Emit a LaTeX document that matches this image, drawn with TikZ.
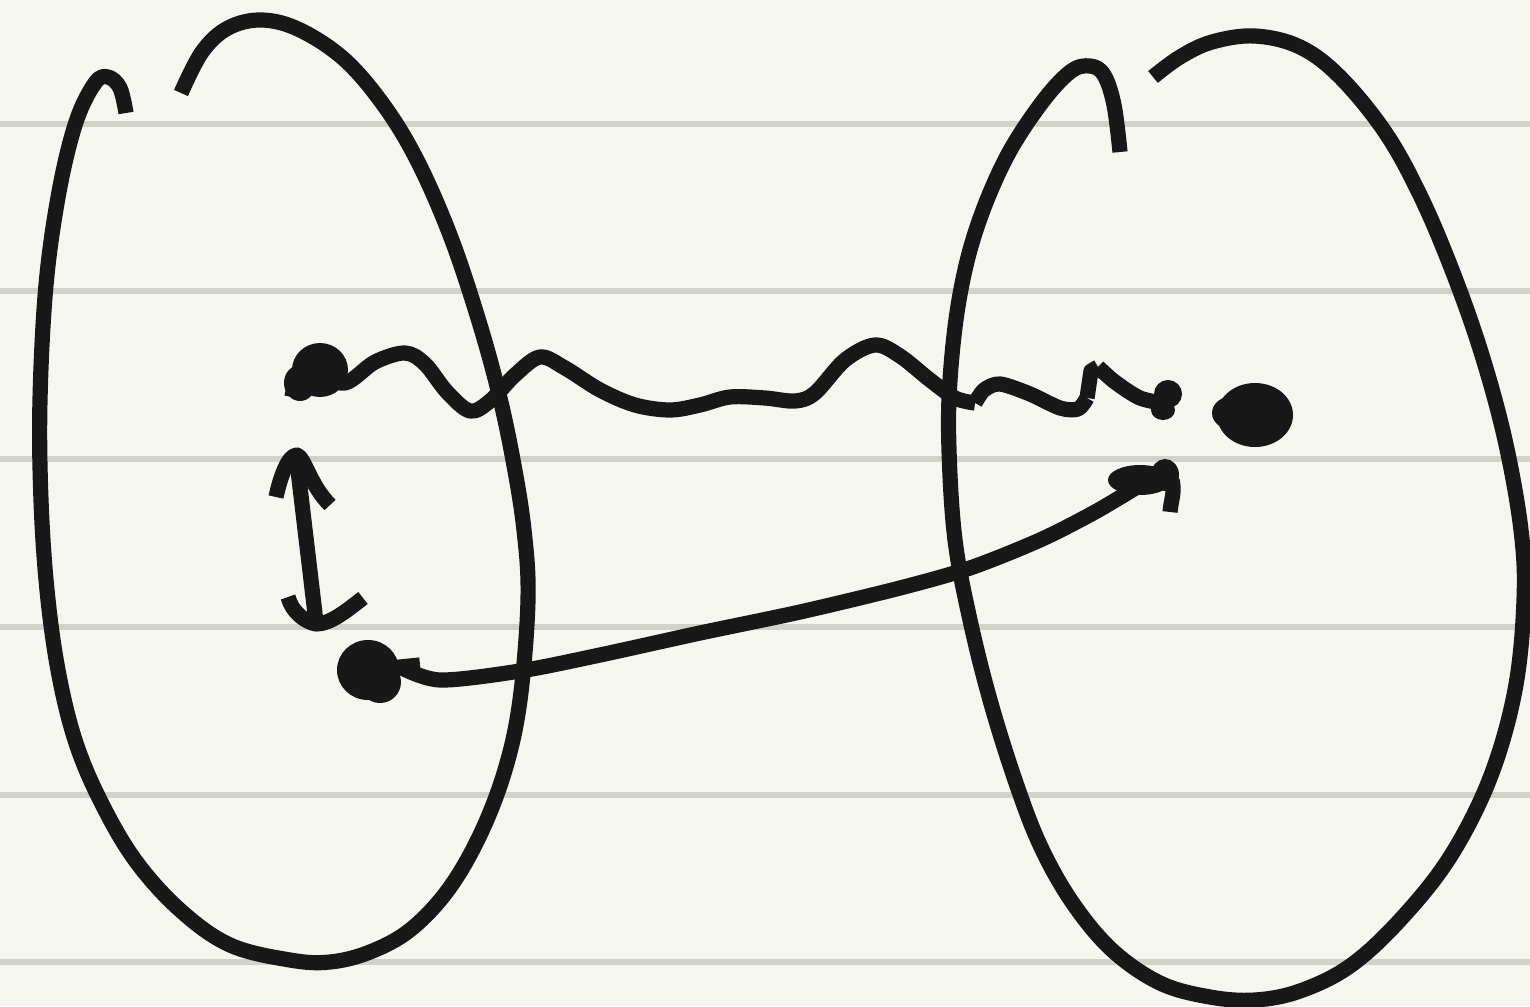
\documentclass[tikz,border=0pt]{standalone}
\begin{document}
\begin{tikzpicture}[x=0.5pt,y=-0.5pt,
  ink/.style={draw=inkc,line width=7.6pt,line cap=butt,line join=round},
  blob/.style={fill=inkc,draw=inkc,line width=1pt},
  ruled/.style={draw=rulec,line width=2.6pt}]
\definecolor{inkc}{HTML}{181818}
\definecolor{paper}{HTML}{F5F6F0}
\definecolor{rulec}{HTML}{D2D2CB}
\fill[paper] (0,0) rectangle (1530,1006);
\useasboundingbox (0,0) rectangle (1530,1006);
\foreach \yy in {124,291,459,627,795,962} \draw[ruled] (0,\yy) -- (1530,\yy);
% left loop
\draw[ink] plot[smooth,tension=0.6] coordinates {(126,113) (120,88) (108,77) (95,83) (76,122) (59,192) (46,285) (40,400) (41,500) (47,590) (58,670) (75,740) (100,800) (135,860) (180,910) (230,945) (290,960) (330,962) (370,952) (410,930) (448,890) (480,835) (505,770) (520,700) (528,600) (524,530) (513,460) (498,390) (477,315) (450,235) (418,162) (385,107) (345,60) (300,30) (262,20) (228,28) (202,52) (181,93)};
% right loop
\draw[ink] plot[smooth,tension=0.6] coordinates {(1120,152) (1114,105) (1104,75) (1090,66) (1070,72) (1040,105) (1005,160) (976,230) (959,300) (950,380) (949,450) (955,540) (970,620) (990,700) (1015,780) (1040,845) (1072,902) (1112,950) (1160,983) (1210,997) (1255,1000) (1300,991) (1350,966) (1400,920) (1450,857) (1490,778) (1515,690) (1524,600) (1521,530) (1505,440) (1481,352) (1452,270) (1420,195) (1385,132) (1340,77) (1300,47) (1255,36) (1212,42) (1180,57) (1153,77)};
% dots
\coordinate (a) at (318,373);
\coordinate (b) at (1167,398);
\coordinate (c) at (370,670);
\coordinate (d) at (1142,480);
\coordinate (e) at (1253,415);
\fill[blob] (320,370) ellipse [x radius=27, y radius=26];
\fill[blob] (300,383) ellipse [x radius=15, y radius=17];
\draw[ink] (292,397) -- (296,376);
\fill[blob] (1168,394) circle [radius=13];
\fill[blob] (1163,410) ellipse [x radius=11, y radius=9];
\fill[blob] (368,670) ellipse [x radius=30, y radius=29];
\fill[blob] (380,682) ellipse [x radius=20, y radius=20];
\fill[blob] (1140,480) ellipse [x radius=31, y radius=14];
\fill[blob] (1165,475) ellipse [x radius=13, y radius=15];
\draw[ink] (1172,480) .. controls (1175,492) and (1171,500) .. (1170,512);
\fill[blob] (1255,415) ellipse [x radius=37, y radius=31];
\fill[blob] (1233,413) ellipse [x radius=20, y radius=16];
% wavy connector a -> b
\draw[ink] plot[smooth,tension=0.55] coordinates {(a) (345,383) (375,362) (405,353) (425,364) (447,392) (470,411) (490,401) (515,375) (540,357) (565,368) (600,390) (635,405) (670,410) (700,405) (730,397) (765,398) (795,401) (815,393) (845,360) (875,345) (900,356) (930,380) (955,398) (975,403)};
\draw[ink] plot[smooth,tension=0.5] coordinates {(975,403) (984,390) (1000,384) (1030,394) (1060,408) (1078,409) (1087,398)};
\draw[ink] (1087,398) -- (1091,371) -- (1098,367);
\draw[ink] plot[smooth,tension=0.5] coordinates {(1098,367) (1115,382) (1140,398) (1167,404)};
% curve c -> d
\draw[ink] (c) -- (420,665);
\draw[ink] plot[smooth,tension=0.5] coordinates {(400,667) (440,680) (520,671) (600,655) (700,633) (800,612) (900,588) (970,568) (1040,540) (1095,512) (1142,484)};
% vertical arrow
\draw[ink] (316,622) -- (297,462);
\draw[ink] (276,497) .. controls (280,478) and (288,455) .. (297,455) .. controls (305,458) and (310,485) .. (330,505);
\draw[ink] (288,597) .. controls (292,612) and (305,622) .. (316,624) .. controls (330,624) and (345,612) .. (363,598);
\end{tikzpicture}
\end{document}
